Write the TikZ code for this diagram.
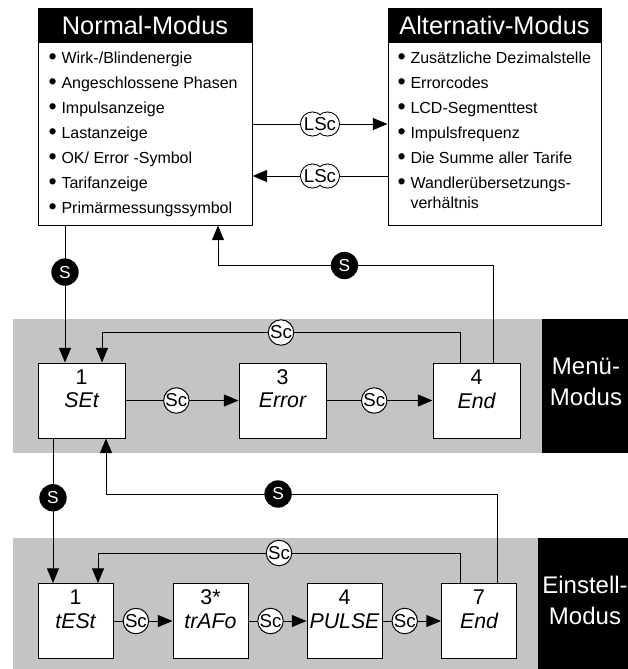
\documentclass[tikz,border=0pt]{standalone}
\usepackage{graphicx}
\usepackage{fontspec}
\setmainfont{Liberation Sans}
\usetikzlibrary{arrows.meta,calc}
\definecolor{bandgray}{RGB}{196,196,196}
\tikzset{every picture/.style={line width=0.75pt}}
\tikzset{
  arr/.style={-{Triangle[length=11pt,width=9pt]}},
  listbox/.style={draw, fill=white, inner sep=0pt},
  headbar/.style={fill=black, text=white, inner sep=0pt, font=\fontsize{19}{22}\selectfont},
  itemtext/.style={anchor=base west, inner sep=0pt, font=\fontsize{12}{14}\selectfont},
  modebox/.style={draw, fill=white, inner sep=0pt, minimum height=56.25pt, font=\fontsize{16}{19}\selectfont\itshape},
  boxnum/.style={inner sep=0pt, font=\fontsize{16}{19}\selectfont\upshape},
  sc/.style={circle, draw, fill=white, inner sep=0pt, minimum size=19pt, font=\fontsize{14}{15}\selectfont},
  sdot/.style={circle, fill=black, text=white, inner sep=0pt, minimum size=20.5pt, font=\fontsize{13}{14}\selectfont},
  lsc/.style={inner sep=0pt, minimum width=29.25pt, minimum height=18pt, font=\fontsize{14}{15}\selectfont},
  modelabel/.style={text=white, align=center, inner sep=0pt, font=\fontsize{18}{23.25}\selectfont}
}
\newcommand\itm[1]{\makebox[9.75pt][l]{\raisebox{-0.9pt}{\scalebox{1.45}{\textbullet}}}#1}

\begin{document}
\begin{tikzpicture}[x=0.75pt,y=0.75pt,yscale=-1,xscale=1]
\path[use as bounding box] (0,0) rectangle (628,669);
\clip (0,0) rectangle (628,669);

%Bands
\fill[bandgray] (13,319) rectangle (542,453);
\fill[black] (542,319) rectangle (640,453);
\fill[bandgray] (13,538) rectangle (538,680);
\fill[black] (538,538) rectangle (640,680);
\node[modelabel] (menulbl) at (586,381.5) {Menü-\\Modus};
\node[modelabel] (einlbl) at (585,600) {Einstell-\\Modus};

%Normal-Modus
\node[listbox, minimum width=160.5pt, minimum height=162.75pt] (nm) at (145,116.5) {};
\node[headbar, minimum width=160.5pt, minimum height=26.25pt] (nmhead) at (145,25.5) {Normal-Modus};
\foreach \t [count=\i] in {{Wirk-/Blindenergie},{Angeschlossene Phasen},{Impulsanzeige},{Lastanzeige},{OK/ Error -Symbol},{Tarifanzeige},{Primärmessungssymbol}}
  \node[itemtext] (nm-\i) at (48,38.5+25*\i) {\itm{\t}};

%Alternativ-Modus
\node[listbox, minimum width=159.75pt, minimum height=162.75pt] (alt) at (494.5,116.5) {};
\node[headbar, minimum width=159.75pt, minimum height=26.25pt] (althead) at (494.5,25.5) {Alternativ-Modus};
\foreach \t [count=\i] in {{Zusätzliche Dezimalstelle},{Errorcodes},{LCD-Segmenttest},{Impulsfrequenz},{Die Summe aller Tarife},{Wandlerübersetzungs-}}
  \node[itemtext] (alt-\i) at (397,38.5+25*\i) {\itm{\t}};
\node[itemtext] (alt-7) at (410,208.5) {verhältnis};

%LSc symbols
\foreach \p/\n in {124/lsa,176/lsb} {
  \draw[fill=white] (312.5,\p) circle (12) (327.5,\p) circle (12);
  \fill[white] (312.5,\p) circle (11.4) (327.5,\p) circle (11.4);
  \node[lsc] (\n) at (320,\p) {LSc};
}
\draw (nm.east |- lsa) -- (lsa);
\draw[arr] (lsa) -- (alt.west |- lsa);
\draw (alt.west |- lsb) -- (lsb);
\draw[arr] (lsb) -- (nm.east |- lsb);

%Menü-Modus
\node[modebox, minimum width=65.25pt] (mset) at (81.5,400.5) {SEt};
\node[modebox, minimum width=65.25pt] (merr) at (282.5,400.5) {Error};
\node[modebox, minimum width=65.25pt] (mend) at (476.5,400.5) {End};

%Einstell-Modus
\node[modebox, minimum width=56.25pt] (etest) at (75.5,621) {tESt};
\node[modebox, minimum width=56.25pt] (etrafo) at (210.5,621) {trAFo};
\node[modebox, minimum width=56.25pt] (epulse) at (344.5,621) {PULSE};
\node[modebox, minimum width=56.25pt] (eend) at (479,621) {End};

% Number nodes
\foreach \n/\k in {mset/1,merr/3,mend/4,etest/1,etrafo/3*,epulse/4,eend/7}
  \node[boxnum] (\n-num) at ($(\n.north)+(0,14.5)$) {\k};

%Connectors
\draw[arr] (mset) -- node[sc, pos=0.45] {Sc} (merr);
\draw[arr] (merr) -- node[sc, pos=0.45] {Sc} (mend);
\draw[arr] ($(mend.north)+(-16.5,0)$) -- ++(0,-30) -| node[sc, pos=0.25] {Sc} ($(mset.north)+(20.5,0)$);
\draw[arr] ($(mend.north)+(16.5,0)$) -- ++(0,-97) -| node[sdot, pos=0.27] {S} ($(nm.south)+(73,0)$);
\draw[arr] ($(nm.south)+(-80,0)$) -- node[sdot, pos=0.34] {S} ($(mset.north)+(-16.5,0)$);
\draw[arr] ($(mset.south)+(-28.5,0)$) -- node[sdot, pos=0.41] {S} ($(etest.north)+(-22.5,0)$);

\draw[arr] (etest) -- node[sc, pos=0.38] {Sc} (etrafo);
\draw[arr] (etrafo) -- node[sc, pos=0.38] {Sc} (epulse);
\draw[arr] (epulse) -- node[sc, pos=0.38] {Sc} (eend);
\draw[arr] ($(eend.north)+(-19,0)$) -- ++(0,-30) -| node[sc, pos=0.25] {Sc} ($(etest.north)+(22.5,0)$);
\draw[arr] ($(eend.north)+(18,0)$) -- ++(0,-89) -| node[sdot, pos=0.28] {S} ($(mset.south)+(24.5,0)$);

\end{tikzpicture}
\end{document}
